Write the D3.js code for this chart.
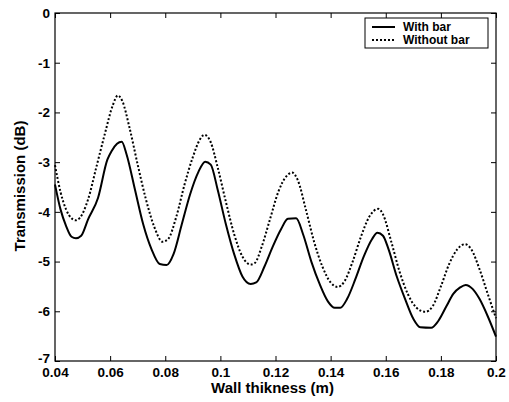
<!DOCTYPE html>
<html>
<head>
<meta charset="utf-8">
<script src="https://cdn.jsdelivr.net/npm/d3@7"></script>
<style>
  body { margin: 0; background: #fff; }
  svg { display: block; font-family: "Liberation Sans", Arial, sans-serif; }
</style>
</head>
<body>
<div id="chart"></div>
<script>
// Data: wall thickness (m) vs transmission (dB)
var withBarX = [0.040, 0.042, 0.044, 0.046, 0.0476, 0.0495, 0.052, 0.0556, 0.059, 0.0605, 0.0625, 0.0642,
  0.066, 0.069, 0.072, 0.075, 0.078, 0.0805, 0.083, 0.086, 0.089, 0.092, 0.0945, 0.0965, 0.099, 0.102,
  0.105, 0.108, 0.111, 0.113, 0.116, 0.119, 0.122, 0.1245, 0.1275, 0.130, 0.133, 0.136, 0.139, 0.1415,
  0.1435, 0.146, 0.149, 0.152, 0.155, 0.157, 0.159, 0.161, 0.164, 0.167, 0.170, 0.1725, 0.1765, 0.179,
  0.182, 0.1845, 0.187, 0.189, 0.1915, 0.194, 0.197, 0.200];
var withBarY = [-3.45, -3.95, -4.28, -4.50, -4.53, -4.48, -4.15, -3.72, -2.95, -2.78, -2.63, -2.59,
  -2.85, -3.55, -4.25, -4.75, -5.05, -5.07, -4.85, -4.25, -3.65, -3.20, -2.99, -3.05, -3.55, -4.25,
  -4.85, -5.30, -5.45, -5.42, -5.10, -4.70, -4.35, -4.14, -4.13, -4.45, -5.00, -5.45, -5.80, -5.93,
  -5.93, -5.75, -5.35, -4.90, -4.55, -4.42, -4.48, -4.75, -5.30, -5.75, -6.15, -6.32, -6.33, -6.20,
  -5.90, -5.65, -5.52, -5.47, -5.55, -5.75, -6.10, -6.51];

var withoutBarX = [0.040, 0.042, 0.044, 0.046, 0.0475, 0.049, 0.052, 0.055, 0.058, 0.061, 0.0628, 0.0645,
  0.067, 0.070, 0.073, 0.076, 0.079, 0.081, 0.084, 0.087, 0.090, 0.0925, 0.0942, 0.0965, 0.099, 0.102,
  0.105, 0.108, 0.111, 0.1125, 0.115, 0.118, 0.121, 0.124, 0.126, 0.128, 0.131, 0.134, 0.137, 0.140,
  0.1425, 0.145, 0.148, 0.151, 0.154, 0.1573, 0.159, 0.162, 0.165, 0.168, 0.171, 0.1743, 0.177, 0.180,
  0.183, 0.186, 0.1888, 0.191, 0.194, 0.197, 0.200];
var withoutBarY = [-3.06, -3.60, -3.95, -4.13, -4.17, -4.12, -3.75, -3.10, -2.45, -1.85, -1.66, -1.78,
  -2.30, -3.05, -3.75, -4.30, -4.60, -4.55, -4.10, -3.45, -2.90, -2.55, -2.45, -2.60, -3.10, -3.80,
  -4.45, -4.90, -5.06, -5.03, -4.70, -4.15, -3.60, -3.28, -3.21, -3.35, -3.95, -4.60, -5.10, -5.42,
  -5.51, -5.40, -5.00, -4.50, -4.10, -3.94, -4.05, -4.60, -5.20, -5.65, -5.92, -6.01, -5.90, -5.50,
  -5.05, -4.75, -4.65, -4.75, -5.15, -5.65, -6.14];

var xTicks = [0.04, 0.06, 0.08, 0.1, 0.12, 0.14, 0.16, 0.18, 0.2];
var yTicks = [0, -1, -2, -3, -4, -5, -6, -7];
var seriesNames = ["With bar", "Without bar"];

var W = 509, H = 402;
var margin = {top: 13, right: 13, bottom: 41, left: 55},
    width = W - margin.left - margin.right,
    height = H - margin.top - margin.bottom;

var svg = d3.select("#chart").append("svg")
    .attr("width", W)
    .attr("height", H);

var g = svg.append("g")
    .attr("transform", `translate(${margin.left},${margin.top})`);

var x = d3.scaleLinear().domain([0.04, 0.2]).range([0, width]);
var y = d3.scaleLinear().domain([-7, 0]).range([height, 0]);

var fmtX = d => String(+d.toFixed(2));
var fmtY = d => String(d);

// Axes (ticks pointing inward, box style)
function styleAxis(sel) {
    sel.select(".domain").remove();
    sel.selectAll(".tick line").attr("stroke", "#000");
    sel.selectAll(".tick text")
        .attr("fill", "#000")
        .style("font-size", "13.5px")
        .style("font-weight", "bold")
        .style("font-family", "'Liberation Sans', Arial, sans-serif");
}

g.append("g")
    .attr("transform", `translate(0,${height})`)
    .call(d3.axisBottom(x).tickValues(xTicks).tickFormat(fmtX).tickSizeInner(-5).tickSizeOuter(0).tickPadding(6))
    .call(styleAxis);

g.append("g")
    .call(d3.axisTop(x).tickValues(xTicks).tickFormat("").tickSizeInner(-5).tickSizeOuter(0))
    .call(styleAxis);

var yAxis = g.append("g")
    .call(d3.axisLeft(y).tickValues(yTicks).tickFormat(fmtY).tickSizeInner(-5).tickSizeOuter(0).tickPadding(5))
    .call(styleAxis);
// the bottom label sits a little higher, just clear of the x labels
yAxis.selectAll(".tick text").filter(d => d === -7).attr("dy", "0.1em");

g.append("g")
    .attr("transform", `translate(${width},0)`)
    .call(d3.axisRight(y).tickValues(yTicks).tickFormat("").tickSizeInner(-5).tickSizeOuter(0))
    .call(styleAxis);

g.append("rect")
    .attr("x", 0).attr("y", 0)
    .attr("width", width).attr("height", height)
    .attr("fill", "none")
    .attr("stroke", "#000")
    .attr("stroke-width", 1.2);

// Lines
var line = d3.line()
    .x(d => x(d[0]))
    .y(d => y(d[1]))
    .curve(d3.curveMonotoneX);

var withBar = withBarX.map((v, i) => [v, withBarY[i]]);
var withoutBar = withoutBarX.map((v, i) => [v, withoutBarY[i]]);

g.append("path")
    .datum(withoutBar)
    .attr("d", line)
    .attr("fill", "none")
    .attr("stroke", "#000")
    .attr("stroke-width", 2)
    .attr("stroke-dasharray", "2,2");

g.append("path")
    .datum(withBar)
    .attr("d", line)
    .attr("fill", "none")
    .attr("stroke", "#000")
    .attr("stroke-width", 2);

// Axis titles
svg.append("text")
    .attr("x", margin.left + width / 2 - 3)
    .attr("y", 393)
    .attr("text-anchor", "middle")
    .style("font-size", "15px")
    .style("font-weight", "bold")
    .text("Wall thikness (m)");

svg.append("text")
    .attr("transform", `translate(25,${186}) rotate(-90)`)
    .attr("text-anchor", "middle")
    .style("font-size", "15px")
    .style("font-weight", "bold")
    .text("Transmission (dB)");

// Legend
var legend = svg.append("g").attr("transform", "translate(365,18)");
legend.append("rect")
    .attr("width", 123).attr("height", 30)
    .attr("fill", "#fff")
    .attr("stroke", "#000")
    .attr("stroke-width", 1);

seriesNames.forEach(function(name, i) {
    var ly = 9 + i * 13;
    legend.append("line")
        .attr("x1", 7).attr("x2", 30)
        .attr("y1", ly).attr("y2", ly)
        .attr("stroke", "#000")
        .attr("stroke-width", 2)
        .attr("stroke-dasharray", i === 1 ? "2,2" : null);
    legend.append("text")
        .attr("x", 38)
        .attr("y", ly + 4.2)
        .style("font-size", "12px")
        .style("font-weight", "bold")
        .text(name);
});
</script>
</body>
</html>
